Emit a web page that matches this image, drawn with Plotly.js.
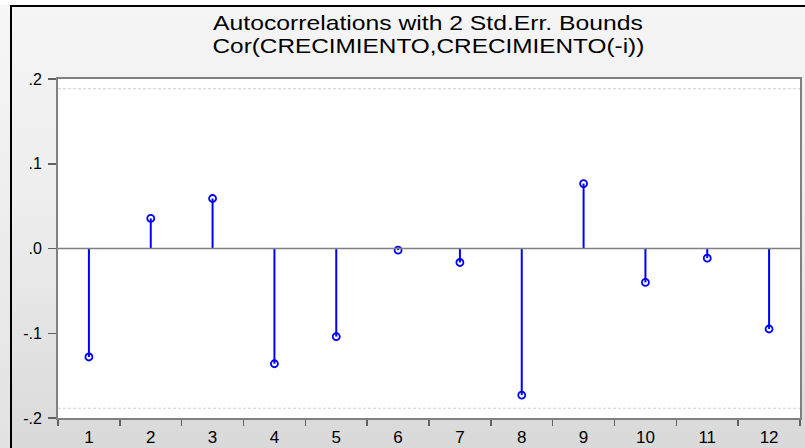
<!DOCTYPE html>
<html>
<head>
<meta charset="utf-8">
<script src="https://cdn.plot.ly/plotly-3.0.1.min.js"></script>
<style>
  html, body { margin: 0; padding: 0; }
  body { width: 805px; height: 448px; overflow: hidden; position: relative;
         background: #ffffff; }
  #bg { position: absolute; left: 10px; top: 5px; width: 795px; height: 443px;
        background: linear-gradient(to bottom, #f5f5f5 0%, #ececec 50%, #d9d9d9 100%);
        border-top: 2px solid #000; border-left: 2px solid #000; box-sizing: border-box; }
  #leftpad { position: absolute; left: 0; top: 5px; width: 10px; height: 443px;
        background: linear-gradient(to bottom, #f7f7f7 0%, #e2e2e2 100%); }
  #chart { position: absolute; left: 0; top: 0; width: 805px; height: 448px; }
</style>
</head>
<body>
<div id="leftpad"></div>
<div id="bg"></div>
<div id="chart"></div>
<script>
const lags = ['1','2','3','4','5','6','7','8','9','10','11','12'];
const acf = [-0.128, 0.0355, 0.059, -0.136, -0.104, -0.002, -0.0165, -0.173, 0.0766, -0.040, -0.0114, -0.095];
const bound = 0.1885;
const yTickVals = [-0.2, -0.1, 0, 0.1, 0.2];
const yTickText = ['-.2', '-.1', '.0', '.1', '.2'];
const titleLines = ['Autocorrelations with 2 Std.Err. Bounds', 'Cor(CRECIMIENTO,CRECIMIENTO(-i))'];

const stemX = [], stemY = [];
lags.forEach((l, i) => { stemX.push(l, l, null); stemY.push(0, acf[i], null); });

const blue = '#0000ff';
const traces = [
  { x: [0, 1], y: [bound, bound], mode: 'lines', xaxis: 'x2',
    line: { color: '#cfcfcf', width: 1, dash: '3px,2px' }, hoverinfo: 'skip' },
  { x: [0, 1], y: [-bound, -bound], mode: 'lines', xaxis: 'x2',
    line: { color: '#cfcfcf', width: 1, dash: '3px,2px' }, hoverinfo: 'skip' },
  { x: [0, 1], y: [0, 0], mode: 'lines', xaxis: 'x2',
    line: { color: '#808080', width: 1.5 }, hoverinfo: 'skip' },
  { x: stemX, y: stemY, mode: 'lines', line: { color: blue, width: 2 } },
  { x: lags, y: acf, mode: 'markers',
    marker: { symbol: 'circle-open', size: 7, color: blue, line: { color: blue, width: 1.8 } } }
];

const titleFont = { size: 20, color: '#000', family: 'Liberation Sans, Arial, sans-serif' };
const layout = {
  width: 805, height: 448,
  margin: { l: 58, r: 5, t: 79, b: 30 },
  paper_bgcolor: 'rgba(0,0,0,0)',
  plot_bgcolor: '#ffffff',
  showlegend: false,
  font: { family: 'Liberation Sans, Arial, sans-serif', color: '#000' },
  annotations: [
    { text: titleLines[0], xref: 'paper', yref: 'paper', x: 0.4993, y: 1.165,
      xanchor: 'center', yanchor: 'middle', showarrow: false, font: titleFont },
    { text: titleLines[1], xref: 'paper', yref: 'paper', x: 0.4993, y: 1.098,
      xanchor: 'center', yanchor: 'middle', showarrow: false, font: titleFont }
  ],
  xaxis: {
    type: 'category', categoryarray: lags, categoryorder: 'array',
    range: [-0.5, 11.5], tickson: 'boundaries', ticks: 'outside', ticklen: 6,
    tickcolor: '#606060', tickwidth: 1.5, ticklabelstandoff: 3,
    showgrid: false, zeroline: false, showline: true, linecolor: '#808080', linewidth: 2,
    mirror: true, tickfont: { size: 17, color: '#000' }, fixedrange: true
  },
  xaxis2: {
    overlaying: 'x', range: [0, 1], visible: false, fixedrange: true
  },
  yaxis: {
    range: [-0.2, 0.2], tickvals: yTickVals, ticktext: yTickText,
    ticks: 'outside', ticklen: 8, tickcolor: '#606060', tickwidth: 1.5, ticklabelstandoff: 3,
    showgrid: false, zeroline: false, showline: true, linecolor: '#808080', linewidth: 2,
    mirror: true, tickfont: { size: 16, color: '#000' }, fixedrange: true
  }
};

// target widths of the two title lines in the reference (horizontally stretched text)
const titleWidths = [430, 432];
Plotly.newPlot('chart', traces, layout, { displayModeBar: false, staticPlot: true }).then(() => {
  document.querySelectorAll('#chart .annotation-text').forEach((t, i) => {
    const w = t.getBBox().width;
    const s = titleWidths[i] / w;
    t.style.transformBox = 'fill-box';
    t.style.transformOrigin = 'center';
    t.style.transform = 'scaleX(' + s.toFixed(3) + ')';
  });
});
</script>
</body>
</html>
